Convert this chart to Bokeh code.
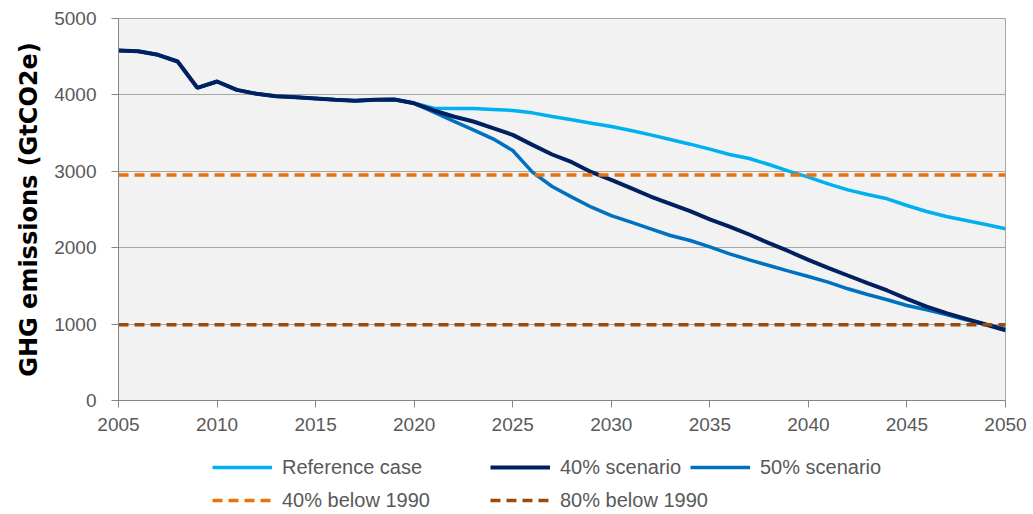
from bokeh.plotting import figure
from bokeh.layouts import column
from bokeh.models import Range1d, FixedTicker, Legend, LegendItem, ColumnDataSource
from bokeh.embed import file_html
from bokeh.resources import INLINE

# ---------------- data ----------------
years = list(range(2005, 2051))
history = [4580, 4572, 4525, 4437, 4093, 4175, 4066, 4014, 3983, 3970,
           3953, 3936, 3922, 3936, 3940, 3890]          # 2005-2020
reference_future = [3826, 3822, 3822, 3809, 3796, 3765, 3717, 3674, 3630, 3586,
                    3534, 3477, 3416, 3355, 3290, 3220, 3168, 3089, 3002, 2923,
                    2836, 2757, 2696, 2640, 2552, 2474, 2408, 2356, 2304, 2247]  # 2021-2050
s40_future = [3796, 3717, 3652, 3564, 3477, 3346, 3220, 3119, 2988, 2888,
              2779, 2670, 2574, 2478, 2372, 2277, 2173, 2059, 1954, 1841,
              1737, 1636, 1536, 1440, 1331, 1230, 1143, 1069, 995, 920]
s50_future = [3774, 3656, 3543, 3425, 3272, 2990, 2801, 2662, 2530, 2421,
              2334, 2247, 2160, 2094, 2010, 1920, 1841, 1767, 1693, 1623,
              1549, 1462, 1387, 1318, 1243, 1187, 1126, 1056, 995, 940]
below40_1990 = 2950
below80_1990 = 990

series_names = ["Reference case", "40% scenario", "50% scenario",
                "40% below 1990", "80% below 1990"]
series_cols = ["ref", "s40", "s50", "b40", "b80"]
series_colors = ["#00B0F0", "#002060", "#0070C0", "#E8720C", "#9C4A0A"]
x_ticks = [2005, 2010, 2015, 2020, 2025, 2030, 2035, 2040, 2045, 2050]
y_ticks = [0, 1000, 2000, 3000, 4000, 5000]
y_label = "GHG emissions (GtCO2e)"

reference = history + reference_future
s40 = history + s40_future
s50 = history + s50_future

src = ColumnDataSource(dict(
    year=years, ref=reference, s40=s40, s50=s50,
    b40=[below40_1990] * len(years), b80=[below80_1990] * len(years)))

# line styles per series (same order as series_names)
styles = [dict(line_color=series_colors[0], line_width=3.5),
          dict(line_color=series_colors[1], line_width=4),
          dict(line_color=series_colors[2], line_width=3.5),
          dict(line_color=series_colors[3], line_width=3.5, line_dash="10 6"),
          dict(line_color=series_colors[4], line_width=3.5, line_dash="10 6")]

# ---------------- main chart ----------------
p = figure(width=1030, height=445,
           x_range=Range1d(2005, 2050), y_range=Range1d(0, 5000),
           output_backend="svg", toolbar_location=None,
           min_border_left=118, min_border_right=25,
           min_border_top=18, min_border_bottom=45)

p.background_fill_color = "#F2F2F2"
p.border_fill_color = "white"
p.outline_line_color = "#A6A6A6"
p.xgrid.visible = False
p.ygrid.grid_line_color = "#A6A6A6"
p.ygrid.grid_line_width = 1

FONT = "Liberation Sans"
TXT = "#595959"
for ax in (p.xaxis[0], p.yaxis[0]):
    ax.axis_line_color = "#868686"
    ax.major_tick_line_color = "#868686"
    ax.major_tick_out = 7
    ax.major_tick_in = 0
    ax.minor_tick_line_color = None
    ax.major_label_text_font = FONT
    ax.major_label_text_font_size = "19px"
    ax.major_label_text_color = TXT

p.xaxis[0].ticker = FixedTicker(ticks=x_ticks)
p.xaxis[0].major_label_standoff = 10
p.yaxis[0].ticker = FixedTicker(ticks=y_ticks)
p.yaxis[0].major_label_standoff = 15
p.yaxis[0].axis_label = y_label
p.yaxis[0].axis_label_text_font = "DejaVu Sans"
p.yaxis[0].axis_label_text_font_style = "bold"
p.yaxis[0].axis_label_text_font_size = "24px"
p.yaxis[0].axis_label_text_color = "black"
p.yaxis[0].axis_label_standoff = 8

# draw order: reference, 50%, 40%, then the two thresholds
for i in (0, 2, 1, 3, 4):
    p.line("year", series_cols[i], source=src, **styles[i])

# ---------------- legend strip (Excel style, two rows) ----------------
leg = figure(width=1030, height=67, x_range=Range1d(0, 1), y_range=Range1d(0, 1),
             output_backend="svg", toolbar_location=None,
             x_axis_location=None, y_axis_location=None, min_border=0)
leg.grid.visible = False
leg.outline_line_color = None
leg.background_fill_color = "white"
leg.border_fill_color = "white"

# (x, y) of each legend entry, relative to the strip's aligned frame
entry_pos = [(94, 33), (372, 33), (572, 33), (94, 0), (372, 0)]
for name, col, st, loc in zip(series_names, series_cols, styles, entry_pos):
    # legend proxy: same series, falls outside this strip's ranges so only the key shows
    proxy = leg.line("year", col, source=src, **st)
    lg = Legend(items=[LegendItem(label=name, renderers=[proxy])],
                location=loc, orientation="horizontal",
                padding=0, margin=0, spacing=0,
                glyph_width=60, glyph_height=24, label_height=24,
                label_standoff=10,
                label_text_font=FONT, label_text_font_size="20px",
                label_text_color=TXT,
                border_line_color=None, background_fill_alpha=0)
    leg.add_layout(lg, "center")

open("out.html", "w").write(file_html(column(p, leg, spacing=0), INLINE))
